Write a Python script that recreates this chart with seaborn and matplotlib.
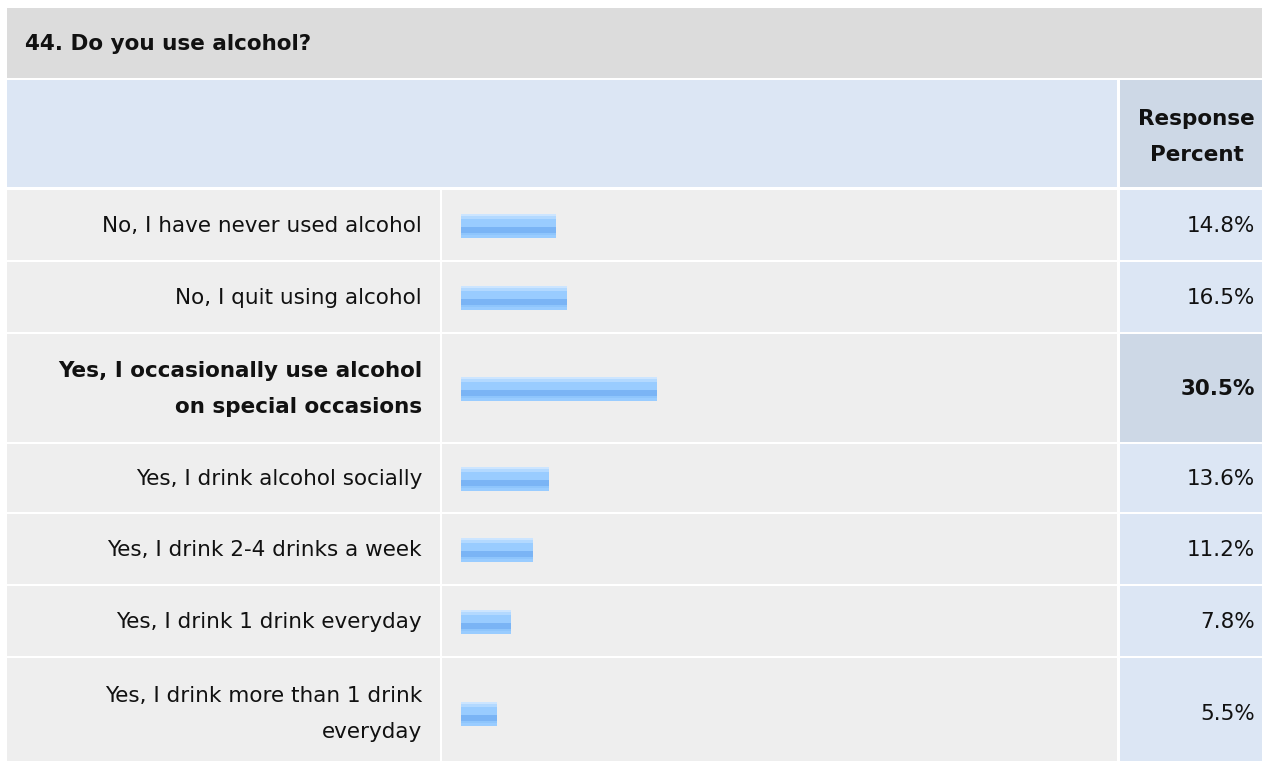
import numpy as np
import pandas as pd
import matplotlib
matplotlib.use("Agg")
import matplotlib.pyplot as plt
from matplotlib.patches import Rectangle
from matplotlib.colors import to_rgb
import seaborn as sns

# ---------------- data ----------------
title = "44. Do you use alcohol?"
header = "Response\nPercent"
categories = [
    "No, I have never used alcohol",
    "No, I quit using alcohol",
    "Yes, I occasionally use alcohol\non special occasions",
    "Yes, I drink alcohol socially",
    "Yes, I drink 2-4 drinks a week",
    "Yes, I drink 1 drink everyday",
    "Yes, I drink more than 1 drink\neveryday",
]
percents = [14.8, 16.5, 30.5, 13.6, 11.2, 7.8, 5.5]
highlight_index = 2  # the bold (largest) answer

# ---------------- layout (pixels) ----------------
W, H = 1262, 761
row_tops = [190, 262, 334, 444, 514, 586, 658]
row_bottoms = [260, 332, 442, 512, 584, 656, 768]
col_label = (7, 440)
col_bar = (442, 1117)
col_pct = (1120, 1262)
bar_x0_px, px_per_pct = 461, 6.4
bar_h_px = 24

C_TITLE = "#DCDCDC"
C_HEAD = "#DCE6F4"
C_HEAD_PCT = "#CDD8E6"
C_ROW = "#EEEEEE"
C_PCT = "#DCE6F4"
C_PCT_HI = "#CDD8E6"
FS = 15.5
LS = 2.0

fig = plt.figure(figsize=(W / 100, H / 100), dpi=100)
fig.patch.set_facecolor("white")

ax_bg = fig.add_axes([0, 0, 1, 1])
ax_bg.set_xlim(0, W)
ax_bg.set_ylim(H, 0)
ax_bg.axis("off")

def rect(x0, x1, y0, y1, c):
    ax_bg.add_patch(Rectangle((x0, y0), x1 - x0, y1 - y0, facecolor=c, edgecolor="none", zorder=0))

# title bar
rect(7, W, 8, 78, C_TITLE)
ax_bg.text(25, 44, title, fontsize=15.5, fontweight="bold", ha="left", va="center", color="#111111")
# header row
rect(7, 1117, 80, 187, C_HEAD)
rect(1120, W, 80, 187, C_HEAD_PCT)
ax_bg.text(1255, 137, header, fontsize=FS, fontweight="bold", ha="right", va="center",
           multialignment="center", linespacing=LS, color="#111111")

# data rows
for i, (t, b) in enumerate(zip(row_tops, row_bottoms)):
    rect(*col_label, t, b, C_ROW)
    rect(*col_bar, t, b, C_ROW)
    rect(*col_pct, t, b, C_PCT_HI if i == highlight_index else C_PCT)
    yc = (t + b) / 2 + 1
    fw = "bold" if i == highlight_index else "normal"
    ax_bg.text(422, yc, categories[i], fontsize=FS, fontweight=fw, ha="right", va="center",
               multialignment="right", linespacing=LS, color="#111111")
    ax_bg.text(1255, yc, f"{percents[i]:.1f}%", fontsize=FS, fontweight=fw, ha="right",
               va="center", color="#111111")

# ---------------- bars (seaborn) ----------------
centers = [(t + b) / 2 + 1 for t, b in zip(row_tops, row_bottoms)]
df = pd.DataFrame({"pct": percents, "pos": centers, "cat": categories})

ax_bar = fig.add_axes([bar_x0_px / W, 0, 100 * px_per_pct / W, 1])
ax_bar.set_facecolor("none")
min_gap = np.min(np.diff(sorted(centers)))
sns.barplot(data=df, x="pct", y="pos", orient="h", native_scale=True,
            width=bar_h_px / min_gap, color="#99CCFF", saturation=1,
            edgecolor="none", linewidth=0, ax=ax_bar, errorbar=None)
ax_bar.set_xlim(0, 100)
ax_bar.set_ylim(H, 0)
ax_bar.axis("off")

# horizontal stripe gradient overlaid on each seaborn bar
stripes = [("#CCE5FF", 2), ("#B3D9FF", 3), ("#99CCFF", 8), ("#7AB4F5", 6),
           ("#8EC5FC", 2), ("#99CCFF", 3)]
grad = np.array([to_rgb(c) for c, n in stripes for _ in range(n)])[:, None, :]
for p in list(ax_bar.patches):
    x0, y0 = p.get_x(), p.get_y()
    x1, y1 = x0 + p.get_width(), y0 + p.get_height()
    ax_bar.imshow(grad, extent=(x0, x1, y1, y0), origin="upper", aspect="auto",
                  interpolation="nearest", zorder=3)
ax_bar.set_xlim(0, 100)
ax_bar.set_ylim(H, 0)

fig.savefig("out.png", dpi=100, facecolor="white")
